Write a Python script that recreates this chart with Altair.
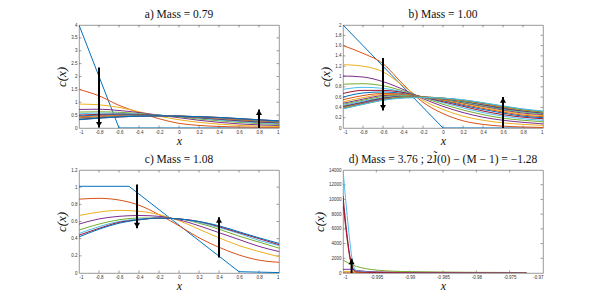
import altair as alt
import pandas as pd

# MATLAB default colour order
COLORS = ["#0072BD", "#D95319", "#EDB120", "#7E2F8E", "#77AC30", "#4DBEEE", "#A2142F"]

XS = [-1.0, -0.8, -0.6, -0.4, -0.2, 0.0, 0.2, 0.4, 0.6, 0.8, 1.0]

# ---------------- panel a ----------------
A_TITLE = "a) Mass = 0.79"
A_SEG_X = [-1.0, -0.6, 1.0]
A_SEG_Y = [4.0, 0.0, 0.0]
A_CURVES = [
    [1.50, 1.25, 0.88, 0.60, 0.36, 0.18, 0.10, 0.06, 0.04, 0.03, 0.03],
    [0.93, 0.90, 0.80, 0.63, 0.46, 0.32, 0.22, 0.15, 0.10, 0.07, 0.06],
    [0.72, 0.73, 0.68, 0.60, 0.50, 0.40, 0.30, 0.22, 0.16, 0.12, 0.10],
    [0.62, 0.63, 0.61, 0.56, 0.50, 0.43, 0.35, 0.28, 0.22, 0.17, 0.14],
    [0.55, 0.58, 0.57, 0.54, 0.50, 0.45, 0.38, 0.31, 0.25, 0.20, 0.17],
    [0.50, 0.53, 0.54, 0.52, 0.49, 0.45, 0.40, 0.34, 0.28, 0.23, 0.20],
    [0.46, 0.50, 0.51, 0.51, 0.49, 0.46, 0.41, 0.36, 0.30, 0.25, 0.22],
    [0.43, 0.47, 0.49, 0.50, 0.49, 0.46, 0.42, 0.37, 0.32, 0.27, 0.23],
    [0.40, 0.44, 0.47, 0.49, 0.48, 0.46, 0.43, 0.38, 0.33, 0.28, 0.24],
    [0.38, 0.42, 0.46, 0.48, 0.48, 0.46, 0.43, 0.39, 0.34, 0.29, 0.25],
    [0.36, 0.41, 0.45, 0.47, 0.48, 0.46, 0.44, 0.40, 0.35, 0.30, 0.26],
    [0.34, 0.40, 0.44, 0.47, 0.47, 0.46, 0.44, 0.40, 0.36, 0.31, 0.27],
    [0.33, 0.39, 0.43, 0.46, 0.47, 0.46, 0.44, 0.41, 0.36, 0.32, 0.27],
    [0.32, 0.38, 0.43, 0.46, 0.47, 0.46, 0.44, 0.41, 0.37, 0.32, 0.28],
]
A_ARROW_X = [-0.8, 0.8]
A_ARROW_Y0 = [2.35, 0.0]
A_ARROW_Y1 = [0.02, 0.72]
A_YTICKS = [0, 0.5, 1, 1.5, 2, 2.5, 3, 3.5, 4]

# ---------------- panel b ----------------
B_TITLE = "b) Mass = 1.00"
B_SEG_X = [-1.0, 0.0, 1.0]
B_SEG_Y = [2.0, 0.0, 0.0]
B_CURVES = [
    [1.60, 1.45, 1.25, 0.85, 0.50, 0.28, 0.14, 0.07, 0.035, 0.02, 0.01],
    [1.23, 1.20, 1.09, 0.82, 0.54, 0.36, 0.23, 0.15, 0.10, 0.07, 0.05],
    [1.01, 0.99, 0.90, 0.75, 0.57, 0.42, 0.30, 0.21, 0.15, 0.11, 0.08],
    [0.85, 0.86, 0.82, 0.72, 0.59, 0.46, 0.35, 0.26, 0.19, 0.15, 0.12],
    [0.75, 0.79, 0.77, 0.70, 0.60, 0.49, 0.39, 0.30, 0.23, 0.18, 0.15],
    [0.67, 0.73, 0.73, 0.69, 0.60, 0.51, 0.42, 0.33, 0.26, 0.21, 0.18],
    [0.60, 0.68, 0.70, 0.67, 0.60, 0.53, 0.44, 0.36, 0.29, 0.23, 0.20],
    [0.55, 0.63, 0.67, 0.66, 0.60, 0.54, 0.46, 0.38, 0.31, 0.25, 0.22],
    [0.51, 0.59, 0.65, 0.65, 0.60, 0.55, 0.48, 0.40, 0.33, 0.27, 0.24],
    [0.48, 0.56, 0.63, 0.64, 0.60, 0.56, 0.49, 0.42, 0.35, 0.29, 0.26],
    [0.46, 0.54, 0.61, 0.63, 0.60, 0.56, 0.50, 0.43, 0.36, 0.31, 0.27],
    [0.44, 0.52, 0.59, 0.62, 0.60, 0.57, 0.51, 0.44, 0.37, 0.32, 0.28],
    [0.42, 0.50, 0.58, 0.61, 0.60, 0.57, 0.52, 0.45, 0.38, 0.33, 0.29],
    [0.41, 0.49, 0.57, 0.61, 0.60, 0.57, 0.52, 0.46, 0.39, 0.34, 0.30],
    [0.40, 0.48, 0.56, 0.60, 0.60, 0.57, 0.53, 0.47, 0.40, 0.35, 0.31],
    [0.39, 0.47, 0.55, 0.60, 0.60, 0.58, 0.53, 0.47, 0.41, 0.35, 0.31],
    [0.38, 0.47, 0.55, 0.59, 0.60, 0.58, 0.54, 0.48, 0.42, 0.36, 0.32],
    [0.38, 0.46, 0.54, 0.59, 0.60, 0.58, 0.54, 0.49, 0.42, 0.36, 0.32],
    [0.37, 0.46, 0.54, 0.58, 0.59, 0.58, 0.55, 0.49, 0.43, 0.37, 0.33],
]
B_ARROW_X = [-0.6, 0.6]
B_ARROW_Y0 = [1.36, 0.0]
B_ARROW_Y1 = [0.34, 0.60]
B_YTICKS = [0, 0.2, 0.4, 0.6, 0.8, 1, 1.2, 1.4, 1.6, 1.8, 2]

# ---------------- panel c ----------------
C_TITLE = "c) Mass = 1.08"
C_SEG_X = [-1.0, -0.5, 0.6, 1.0]
C_SEG_Y = [1.01, 1.01, 0.015, 0.005]
C_CURVES = [
    [0.86, 0.87, 0.85, 0.79, 0.68, 0.55, 0.41, 0.30, 0.21, 0.15, 0.125],
    [0.67, 0.71, 0.73, 0.72, 0.68, 0.61, 0.51, 0.41, 0.32, 0.25, 0.19],
    [0.57, 0.63, 0.66, 0.67, 0.66, 0.62, 0.55, 0.47, 0.39, 0.31, 0.25],
    [0.50, 0.57, 0.62, 0.64, 0.64, 0.63, 0.58, 0.51, 0.43, 0.36, 0.29],
    [0.46, 0.54, 0.60, 0.63, 0.64, 0.63, 0.59, 0.53, 0.46, 0.38, 0.32],
    [0.44, 0.52, 0.59, 0.62, 0.64, 0.63, 0.60, 0.54, 0.47, 0.40, 0.33],
    [0.42, 0.51, 0.58, 0.62, 0.64, 0.63, 0.60, 0.55, 0.48, 0.41, 0.345],
]
C_ARROW_X = [-0.42, 0.4]
C_ARROW_Y0 = [1.03, 0.18]
C_ARROW_Y1 = [0.52, 0.65]
C_YTICKS = [0, 0.2, 0.4, 0.6, 0.8, 1, 1.2]

# ---------------- panel d ----------------
D_TITLE = "d) Mass = 3.76 ; 2J\u0303(0) \u2212 (M \u2212 1) = \u22121.28"
D_XS = [-1.0, -0.9995, -0.999, -0.9985, -0.998, -0.995, -0.99, -0.98, -0.9725]
D_CURVES = [
    [10500, 6000, 2500, 600, 150, 60, 30, 15, 8],
    [100, 100, 100, 95, 90, 80, 75, 70, 65],
    [200, 190, 180, 160, 140, 100, 80, 60, 50],
    [500, 500, 500, 480, 350, 150, 90, 60, 50],
    [1750, 1500, 1250, 1050, 900, 400, 180, 90, 60],
    [14000, 9000, 4500, 1200, 300, 80, 40, 20, 10],
    [9500, 5500, 2200, 500, 150, 60, 30, 15, 8],
]
D_ARROW_X = [-0.99871]
D_ARROW_Y0 = [0.0]
D_ARROW_Y1 = [1950.0]
D_XTICKS = [-1, -0.995, -0.99, -0.985, -0.98, -0.975, -0.97]
D_YTICKS = [0, 2000, 4000, 6000, 8000, 10000, 12000, 14000]

X_TICKS = [-1, -0.8, -0.6, -0.4, -0.2, 0, 0.2, 0.4, 0.6, 0.8, 1]

W, H = 200, 103
TICK_LEN = 2.5


def curves_frame(xs, curves, start_index):
    rows = []
    for j, ys in enumerate(curves):
        k = start_index + j
        for x, y in zip(xs, ys):
            rows.append({"x": x, "y": y, "k": k})
    return pd.DataFrame(rows)


def make_panel(title, seg_x, seg_y, xs, curves, ax_x, ay0, ay1,
               xdom, xticks, ydom, yticks):
    start = 1 if seg_x else 0
    df = curves_frame(xs, curves, start)
    kdom = sorted(df["k"].unique().tolist())
    krange = [COLORS[k % 7] for k in kdom]

    xs_ = alt.Scale(domain=xdom, nice=False, zero=False)
    ys_ = alt.Scale(domain=ydom, nice=False, zero=False)
    xax = alt.Axis(values=xticks, labelExpr="toString(datum.value)", title="x",
                   labelPadding=1, titlePadding=2, titleFontSize=12)
    yax = alt.Axis(values=yticks, labelExpr="toString(datum.value)", title="c(x)")

    def X(f):
        return alt.X(f, scale=xs_, axis=xax)

    def Y(f):
        return alt.Y(f, scale=ys_, axis=yax)

    layers = []
    # inward tick marks (MATLAB style box ticks)
    xt = pd.DataFrame({"t": xticks[1:-1]})
    yt = pd.DataFrame({"t": yticks[1:-1]})
    tick_style = dict(color="#606060", strokeWidth=0.6)
    layers.append(alt.Chart(xt).mark_rule(**tick_style).encode(
        x=X("t:Q"), y=alt.value(0), y2=alt.value(TICK_LEN)))
    layers.append(alt.Chart(xt).mark_rule(**tick_style).encode(
        x=X("t:Q"), y=alt.value(H - TICK_LEN), y2=alt.value(H)))
    layers.append(alt.Chart(yt).mark_rule(**tick_style).encode(
        y=Y("t:Q"), x=alt.value(0), x2=alt.value(TICK_LEN)))
    layers.append(alt.Chart(yt).mark_rule(**tick_style).encode(
        y=Y("t:Q"), x=alt.value(W - TICK_LEN), x2=alt.value(W)))

    if seg_x:
        seg = pd.DataFrame({"x": seg_x, "y": seg_y})
        layers.append(
            alt.Chart(seg).mark_line(color=COLORS[0], strokeWidth=1, clip=True).encode(
                x=X("x:Q"), y=Y("y:Q"))
        )
    layers.append(
        alt.Chart(df).mark_line(strokeWidth=1, interpolate="monotone", clip=True).encode(
            x=X("x:Q"),
            y=Y("y:Q"),
            color=alt.Color("k:N", scale=alt.Scale(domain=kdom, range=krange), legend=None),
        )
    )
    arr = pd.DataFrame({"x": ax_x, "y0": ay0, "y1": ay1})
    arr["up"] = arr["y1"] > arr["y0"]
    layers.append(
        alt.Chart(arr).mark_rule(color="black", strokeWidth=2).encode(
            x=X("x:Q"), y=Y("y0:Q"), y2="y1:Q")
    )
    up = arr[arr["up"]]
    dn = arr[~arr["up"]]
    if len(up):
        layers.append(
            alt.Chart(up).mark_point(shape="triangle-up", filled=True, size=36,
                                     color="black", opacity=1, yOffset=3).encode(
                x=X("x:Q"), y=Y("y1:Q"))
        )
    if len(dn):
        layers.append(
            alt.Chart(dn).mark_point(shape="triangle-down", filled=True, size=36,
                                     color="black", opacity=1, yOffset=-3).encode(
                x=X("x:Q"), y=Y("y1:Q"))
        )
    return alt.layer(*layers).properties(width=W, height=H, title=title)


pa = make_panel(A_TITLE, A_SEG_X, A_SEG_Y, XS, A_CURVES, A_ARROW_X, A_ARROW_Y0, A_ARROW_Y1,
                [-1, 1], X_TICKS, [0, 4], A_YTICKS)
pb = make_panel(B_TITLE, B_SEG_X, B_SEG_Y, XS, B_CURVES, B_ARROW_X, B_ARROW_Y0, B_ARROW_Y1,
                [-1, 1], X_TICKS, [0, 2], B_YTICKS)
pc = make_panel(C_TITLE, C_SEG_X, C_SEG_Y, XS, C_CURVES, C_ARROW_X, C_ARROW_Y0, C_ARROW_Y1,
                [-1, 1], X_TICKS, [0, 1.2], C_YTICKS)
pd_ = make_panel(D_TITLE, None, None, D_XS, D_CURVES, D_ARROW_X, D_ARROW_Y0, D_ARROW_Y1,
                 [-1, -0.97], D_XTICKS, [0, 14000], D_YTICKS)

chart = alt.concat(
    pa, pb, pc, pd_, columns=2, spacing={"row": 42, "column": 64}, bounds="flush"
).properties(
    padding={"left": 47, "top": 0, "right": 5, "bottom": 5},
    background="white",
).configure_view(
    stroke="#808080", strokeWidth=0.8
).configure_axis(
    domain=False,
    ticks=False,
    grid=False,
    labelFont="Liberation Sans",
    labelFontSize=4.5,
    labelColor="#333333",
    labelPadding=2,
    titleFont="Liberation Serif",
    titleFontStyle="italic",
    titleFontWeight="normal",
    titleFontSize=13,
    titleColor="#111111",
    titlePadding=2,
).configure_title(
    font="Liberation Serif", fontSize=11.5, fontWeight="normal", color="#111111", offset=2
)

chart.save("out.html", embed_options={"renderer": "svg", "actions": False})
